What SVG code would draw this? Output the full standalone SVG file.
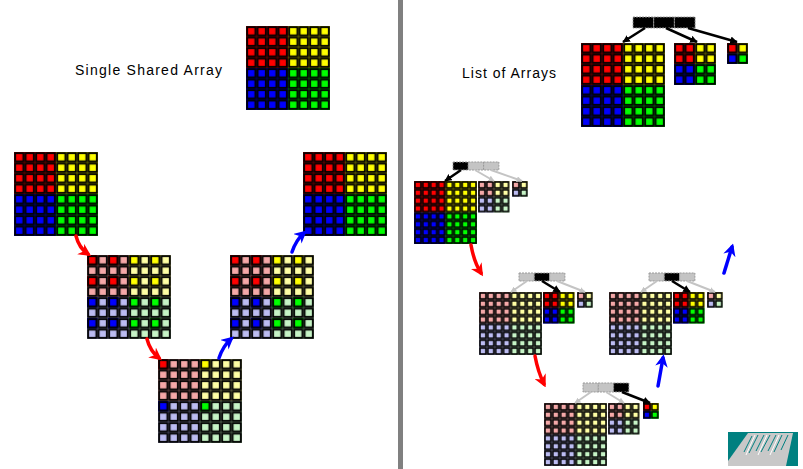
<svg xmlns="http://www.w3.org/2000/svg" xmlns:xlink="http://www.w3.org/1999/xlink" width="803" height="469" viewBox="0 0 803 469">
<style>
.r{fill:#ff0000}.y{fill:#ffff00}.b{fill:#0000ff}.g{fill:#00ff00}
.pr{fill:#f5a8a8}.py{fill:#ffffa4}.pb{fill:#bcbcf2}.pg{fill:#c6f4c6}
.lbl{font-family:"Liberation Sans",Arial,sans-serif;font-size:14px;fill:#000}
.hb{fill:#000;stroke:#999;stroke-width:1;stroke-dasharray:2 1}
.hg{fill:#c4c4c4;stroke:#999;stroke-width:1;stroke-dasharray:2 1}
.ra{fill:none;stroke:#ff0000;stroke-width:3.5;stroke-linecap:round;marker-end:url(#mr)}
.ba{fill:none;stroke:#0000ff;stroke-width:3.5;stroke-linecap:round;marker-end:url(#mb)}
.ka{fill:none;stroke:#000;stroke-width:2.5;marker-end:url(#mk)}
.ga{fill:none;stroke:#c4c4c4;stroke-width:2;marker-end:url(#mg)}
</style>
<defs>
<pattern id="c10" width="10.5" height="10.5" patternUnits="userSpaceOnUse"><rect x="1.1" y="1.1" width="8.3" height="8.3" fill="none" stroke="#000" stroke-width="1.9"/></pattern>
<pattern id="c8" width="7.875" height="7.875" patternUnits="userSpaceOnUse"><rect x="0.95" y="0.95" width="5.975" height="5.975" fill="none" stroke="#000" stroke-width="1.6"/></pattern>
<marker id="mr" viewBox="0 0 10 10" refX="7" refY="5" markerWidth="3.6" markerHeight="3.6" orient="auto"><path d="M0,0 L10,5 L0,10 L3,5 z" fill="#ff0000"/></marker>
<marker id="mb" viewBox="0 0 10 10" refX="7" refY="5" markerWidth="3.6" markerHeight="3.6" orient="auto"><path d="M0,0 L10,5 L0,10 L3,5 z" fill="#0000ff"/></marker>
<marker id="mk" viewBox="0 0 10 10" refX="9" refY="5" markerWidth="3" markerHeight="3" orient="auto"><path d="M0,0 L10,5 L0,10 z" fill="#000"/></marker>
<marker id="mg" viewBox="0 0 10 10" refX="9" refY="5" markerWidth="3" markerHeight="3" orient="auto"><path d="M0,0 L10,5 L0,10 z" fill="#c4c4c4"/></marker>
<g id="F84"><rect width="42" height="42" class="r"/><rect x="42" width="42" height="42" class="y"/><rect y="42" width="42" height="42" class="b"/><rect x="42" y="42" width="42" height="42" class="g"/><rect width="84" height="84" fill="url(#c10)"/></g>
<g id="M2"><rect width="42" height="42" class="pr"/><rect x="42" width="42" height="42" class="py"/><rect y="42" width="42" height="42" class="pb"/><rect x="42" y="42" width="42" height="42" class="pg"/>
<rect x="0" y="0" width="10.5" height="10.5" class="r"/><rect x="21" y="0" width="10.5" height="10.5" class="r"/><rect x="0" y="21" width="10.5" height="10.5" class="r"/><rect x="21" y="21" width="10.5" height="10.5" class="r"/>
<rect x="42" y="0" width="10.5" height="10.5" class="y"/><rect x="63" y="0" width="10.5" height="10.5" class="y"/><rect x="42" y="21" width="10.5" height="10.5" class="y"/><rect x="63" y="21" width="10.5" height="10.5" class="y"/>
<rect x="0" y="42" width="10.5" height="10.5" class="b"/><rect x="21" y="42" width="10.5" height="10.5" class="b"/><rect x="0" y="63" width="10.5" height="10.5" class="b"/><rect x="21" y="63" width="10.5" height="10.5" class="b"/>
<rect x="42" y="42" width="10.5" height="10.5" class="g"/><rect x="63" y="42" width="10.5" height="10.5" class="g"/><rect x="42" y="63" width="10.5" height="10.5" class="g"/><rect x="63" y="63" width="10.5" height="10.5" class="g"/>
<rect width="84" height="84" fill="url(#c10)"/></g>
<g id="M4"><rect width="42" height="42" class="pr"/><rect x="42" width="42" height="42" class="py"/><rect y="42" width="42" height="42" class="pb"/><rect x="42" y="42" width="42" height="42" class="pg"/>
<rect width="10.5" height="10.5" class="r"/><rect x="42" width="10.5" height="10.5" class="y"/><rect y="42" width="10.5" height="10.5" class="b"/><rect x="42" y="42" width="10.5" height="10.5" class="g"/>
<rect width="84" height="84" fill="url(#c10)"/></g>
<g id="F42"><rect width="21" height="21" class="r"/><rect x="21" width="21" height="21" class="y"/><rect y="21" width="21" height="21" class="b"/><rect x="21" y="21" width="21" height="21" class="g"/><rect width="42" height="42" fill="url(#c10)"/></g>
<g id="F21"><rect width="10.5" height="10.5" class="r"/><rect x="10.5" width="10.5" height="10.5" class="y"/><rect y="10.5" width="10.5" height="10.5" class="b"/><rect x="10.5" y="10.5" width="10.5" height="10.5" class="g"/><rect width="21" height="21" fill="url(#c10)"/></g>
<g id="F63"><rect width="31.5" height="31.5" class="r"/><rect x="31.5" width="31.5" height="31.5" class="y"/><rect y="31.5" width="31.5" height="31.5" class="b"/><rect x="31.5" y="31.5" width="31.5" height="31.5" class="g"/><rect width="63" height="63" fill="url(#c8)"/></g>
<g id="P63"><rect width="31.5" height="31.5" class="pr"/><rect x="31.5" width="31.5" height="31.5" class="py"/><rect y="31.5" width="31.5" height="31.5" class="pb"/><rect x="31.5" y="31.5" width="31.5" height="31.5" class="pg"/><rect width="63" height="63" fill="url(#c8)"/></g>
<g id="F32"><rect width="15.75" height="15.75" class="r"/><rect x="15.75" width="15.75" height="15.75" class="y"/><rect y="15.75" width="15.75" height="15.75" class="b"/><rect x="15.75" y="15.75" width="15.75" height="15.75" class="g"/><rect width="31.5" height="31.5" fill="url(#c8)"/></g>
<g id="P32"><rect width="15.75" height="15.75" class="pr"/><rect x="15.75" width="15.75" height="15.75" class="py"/><rect y="15.75" width="15.75" height="15.75" class="pb"/><rect x="15.75" y="15.75" width="15.75" height="15.75" class="pg"/><rect width="31.5" height="31.5" fill="url(#c8)"/></g>
<g id="F16"><rect width="7.875" height="7.875" class="r"/><rect x="7.875" width="7.875" height="7.875" class="y"/><rect y="7.875" width="7.875" height="7.875" class="b"/><rect x="7.875" y="7.875" width="7.875" height="7.875" class="g"/><rect width="15.75" height="15.75" fill="url(#c8)"/></g>
<g id="P16"><rect width="7.875" height="7.875" class="pr"/><rect x="7.875" width="7.875" height="7.875" class="py"/><rect y="7.875" width="7.875" height="7.875" class="pb"/><rect x="7.875" y="7.875" width="7.875" height="7.875" class="pg"/><rect width="15.75" height="15.75" fill="url(#c8)"/></g>
</defs>
<rect width="803" height="469" fill="#fff"/>
<rect id="divider" x="398" y="0" width="5" height="469" fill="#808080"/>
<g id="title-left"><text class="lbl" x="75" y="75" textLength="147" lengthAdjust="spacing">Single Shared Array</text></g>
<g id="title-right"><text class="lbl" x="462" y="78" textLength="94" lengthAdjust="spacing">List of Arrays</text></g>
<g id="shared-top"><use xlink:href="#F84" x="246" y="26"/></g>
<g id="shared-1"><use xlink:href="#F84" x="14" y="152"/></g>
<g id="shared-2"><use xlink:href="#M2" x="87" y="255"/></g>
<g id="shared-3"><use xlink:href="#M4" x="158" y="359"/></g>
<g id="shared-4"><use xlink:href="#M2" x="230" y="255"/></g>
<g id="shared-5"><use xlink:href="#F84" x="303" y="152"/></g>
<g id="list-top">
<rect class="hb" x="633" y="17" width="20.7" height="11"/><rect class="hb" x="653.7" y="17" width="20.7" height="11"/><rect class="hb" x="674.4" y="17" width="20.7" height="11"/>
<use xlink:href="#F84" x="581" y="43"/><use xlink:href="#F42" x="674" y="43"/><use xlink:href="#F21" x="727" y="43"/>
</g>
<g id="list-1">
<rect class="hb" x="453" y="162" width="15.3" height="8"/><rect class="hg" x="468.3" y="162" width="15.3" height="8"/><rect class="hg" x="483.6" y="162" width="15.3" height="8"/>
<use xlink:href="#F63" x="414" y="181"/><use xlink:href="#P32" x="478" y="181"/><use xlink:href="#P16" x="512" y="181"/>
</g>
<g id="list-2">
<rect class="hg" x="519" y="273" width="15.3" height="8"/><rect class="hb" x="534.3" y="273" width="15.3" height="8"/><rect class="hg" x="549.6" y="273" width="15.3" height="8"/>
<use xlink:href="#P63" x="479" y="292"/><use xlink:href="#F32" x="543" y="292"/><use xlink:href="#P16" x="577" y="292"/>
</g>
<g id="list-3">
<rect class="hg" x="649" y="273" width="15.3" height="8"/><rect class="hb" x="664.3" y="273" width="15.3" height="8"/><rect class="hg" x="679.6" y="273" width="15.3" height="8"/>
<use xlink:href="#P63" x="609" y="292"/><use xlink:href="#F32" x="673" y="292"/><use xlink:href="#P16" x="707" y="292"/>
</g>
<g id="list-4">
<rect class="hg" x="583" y="383" width="15.3" height="9"/><rect class="hg" x="598.3" y="383" width="15.3" height="9"/><rect class="hb" x="613.6" y="383" width="15.3" height="9"/>
<use xlink:href="#P63" x="544" y="403"/><use xlink:href="#P32" x="608" y="403"/><use xlink:href="#F16" x="643" y="403"/>
</g>
<g id="connectors">
<path class="ra" d="M76,236 Q79,248 88,254"/>
<path class="ra" d="M147,339 Q150,351 159,358"/>
<path class="ba" d="M219,358 Q223,346 231,339"/>
<path class="ba" d="M292,252 Q296,240 304,233"/>
<path class="ra" d="M471,245 Q474,262 481,273"/>
<path class="ra" d="M535,356 Q538,372 544,384"/>
<path class="ba" d="M658,386 L663,358"/>
<path class="ba" d="M724,273 L732,247"/>
<path class="ka" d="M645,28 L623,42"/>
<path class="ka" d="M666,28 L697,42"/>
<path class="ka" d="M688,28 L737,42"/>
<path class="ka" d="M461,170 L445,181"/>
<path class="ga" d="M475,170 L494,181"/>
<path class="ga" d="M491,170 L522,181"/>
<path class="ga" d="M527,281 L511,292"/>
<path class="ka" d="M542,281 L560,292"/>
<path class="ga" d="M557,281 L585,292"/>
<path class="ga" d="M657,281 L641,292"/>
<path class="ka" d="M672,281 L690,292"/>
<path class="ga" d="M687,281 L715,292"/>
<path class="ga" d="M591,392 L575,403"/>
<path class="ga" d="M606,392 L624,403"/>
<path class="ka" d="M622,392 L650,403"/>
</g>
<g id="logo">
<rect x="728" y="432" width="70" height="34" fill="#008080"/>
<polygon points="728,466 728,461 748,433 793,433 786,466" fill="#c8c8c8"/>
<g stroke="#008080" stroke-width="1">
<line x1="752" y1="436" x2="744" y2="452"/><line x1="758" y1="435" x2="749" y2="453"/><line x1="764" y1="435" x2="756" y2="451"/><line x1="770" y1="435" x2="761" y2="452"/><line x1="776" y1="435" x2="768" y2="451"/><line x1="782" y1="435" x2="774" y2="452"/><line x1="788" y1="435" x2="781" y2="450"/>
</g>
<g stroke="#fff" stroke-width="1">
<line x1="755" y1="435" x2="746" y2="455"/><line x1="767" y1="435" x2="758" y2="455"/><line x1="779" y1="435" x2="770" y2="455"/>
</g>
</g>
</svg>
